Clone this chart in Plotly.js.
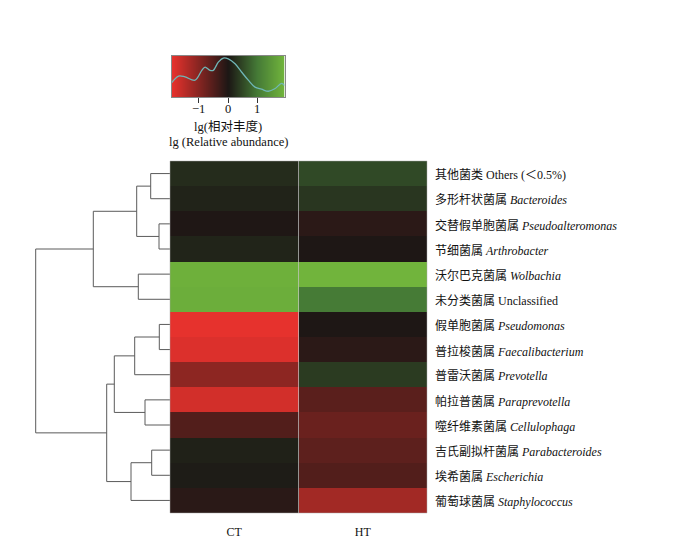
<!DOCTYPE html>
<html><head><meta charset="utf-8">
<script src="https://cdn.plot.ly/plotly-3.0.1.min.js"></script>
<style>html,body{margin:0;padding:0;background:#fff}</style>
</head><body><div id="chart" style="width:700px;height:560px"></div>
<script>
// ---- data ----
const samples = ['CT', 'HT'];
const genusCN = ['其他菌类', '多形杆状菌属', '交替假单胞菌属', '节细菌属', '沃尔巴克菌属', '未分类菌属',
  '假单胞菌属', '普拉梭菌属', '普雷沃菌属', '帕拉普菌属', '噬纤维素菌属', '吉氏副拟杆菌属', '埃希菌属', '葡萄球菌属'];
const genusLatin = ['Others (＜0.5%)', 'Bacteroides', 'Pseudoalteromonas', 'Arthrobacter', 'Wolbachia', 'Unclassified',
  'Pseudomonas', 'Faecalibacterium', 'Prevotella', 'Paraprevotella', 'Cellulophaga', 'Parabacteroides', 'Escherichia', 'Staphylococcus'];
const latinItalic = [false, true, true, true, true, false, true, true, true, true, true, true, true, true];
const valuesCT = [0.21, 0.12, -0.03, 0.13, 1.83, 1.80, -1.90, -1.81, -1.06, -1.71, -0.51, 0.10, 0.05, -0.13];
const valuesHT = [0.49, 0.31, -0.14, -0.02, 1.89, 1.00, -0.02, -0.14, 0.36, -0.58, -0.73, -0.61, -0.51, -1.26];
const keyRange = [-1.92, 1.92];
const keyTicks = [-1, 0, 1];
const keyTickText = ['−1', '0', '1'];
const densityX = [-1.91, -1.68, -1.46, -1.12, -0.89, -0.78, -0.61, -0.50, -0.33, -0.16, 0.01, 0.24, 0.46, 0.69, 0.92, 1.14, 1.37, 1.59, 1.82, 1.92];
const densityY = [0.35, 0.51, 0.49, 0.41, 0.65, 0.73, 0.65, 0.65, 0.85, 0.95, 0.93, 0.81, 0.61, 0.41, 0.24, 0.19, 0.14, 0.20, 0.33, 0.28];
// dendrogram merges (hclust style): negative = leaf row (1-based), positive = earlier merge (1-based)
const mergeA = [-7, -3, -12, -1, -10, -5, 4, 1, 3, 8, 10, 7, 12];
const mergeB = [-8, -4, -13, -2, -11, -6, 2, -9, -14, 5, 9, 6, 11];
const mergeHeight = [1.07, 1.10, 1.83, 1.93, 2.50, 3.17, 3.33, 3.53, 3.90, 5.57, 6.33, 7.67, 13.43];

// ---- build ----
const W = 700, H = 560;
const px = v => v / W, py = v => 1 - v / H;
const FONT = 'Liberation Serif, "Noto Sans CJK SC", serif';
const colorscale = [[0, 'rgb(232,50,45)'], [0.5, 'rgb(28,23,21)'], [0.75, 'rgb(68,120,54)'], [1, 'rgb(114,182,60)']];

const rows = genusCN.map((_, i) => i);
const z = rows.map(i => [valuesCT[i], valuesHT[i]]);

// dendrogram segments
const nodeY = [], nodeH = [];
const getY = k => k < 0 ? (-k - 1) : nodeY[k - 1];
const getH = k => k < 0 ? 0 : nodeH[k - 1];
const dx = [], dy = [];
mergeA.forEach((a, i) => {
  const b = mergeB[i], h = mergeHeight[i];
  const ya = getY(a), yb = getY(b), ha = getH(a), hb = getH(b);
  dx.push(ha, h, h, hb, null);
  dy.push(ya, ya, yb, yb, null);
  nodeY.push((ya + yb) / 2); nodeH.push(h);
});

const traces = [
  { type: 'heatmap', x: samples, y: rows, z: z, colorscale: colorscale,
    zmin: keyRange[0], zmax: keyRange[1], showscale: false, xaxis: 'x', yaxis: 'y', hoverinfo: 'skip' },
  { type: 'scatter', mode: 'lines', x: dx, y: dy, xaxis: 'x2', yaxis: 'y',
    line: { color: '#5a5a5a', width: 1 }, hoverinfo: 'skip', cliponaxis: false },
  { type: 'heatmap', x: keyRange, y: [0, 1], z: [keyRange, keyRange], zsmooth: 'best',
    colorscale: colorscale, zmin: keyRange[0], zmax: keyRange[1], showscale: false,
    xaxis: 'x3', yaxis: 'y3', hoverinfo: 'skip' },
  { type: 'scatter', mode: 'lines', x: densityX, y: densityY, xaxis: 'x3', yaxis: 'y3',
    line: { color: '#6fb6b6', width: 1.3, shape: 'spline' }, hoverinfo: 'skip' }
];

const annotations = rows.map(i => ({
  xref: 'paper', yref: 'y', x: px(433), y: i + 0.06, xanchor: 'left', yanchor: 'middle', showarrow: false,
  text: genusCN[i] + ' ' + (latinItalic[i] ? '<i>' + genusLatin[i] + '</i>' : genusLatin[i]),
  font: { family: FONT, size: 12, color: '#111' }
}));
keyTicks.forEach((t, i) => annotations.push({
  xref: 'x3', yref: 'paper', x: t, y: py(109), xanchor: 'center', yanchor: 'middle', showarrow: false,
  text: keyTickText[i], font: { family: FONT, size: 12.5, color: '#111' }
}));
annotations.push(
  { xref: 'paper', yref: 'paper', x: px(228), y: py(126.5), xanchor: 'center', yanchor: 'middle', showarrow: false,
    text: 'lg(相对丰度)', font: { family: FONT, size: 12.5, color: '#111' } },
  { xref: 'paper', yref: 'paper', x: px(228), y: py(141.5), xanchor: 'center', yanchor: 'middle', showarrow: false,
    text: 'lg (Relative abundance)', font: { family: FONT, size: 12.5, color: '#111' } }
);

const layout = {
  width: W, height: H, margin: { l: 0, r: 0, t: 0, b: 0 },
  paper_bgcolor: '#fff', plot_bgcolor: 'rgba(0,0,0,0)', showlegend: false,
  font: { family: FONT, size: 12, color: '#111' },
  xaxis: { domain: [px(170), px(427)], anchor: 'y', ticks: 'outside', ticklen: 8, tickcolor: 'rgba(0,0,0,0)',
    showgrid: false, zeroline: false, showline: false, tickfont: { family: FONT, size: 12, color: '#111' } },
  yaxis: { domain: [py(513), py(161)], range: [13.5, -0.5], visible: false, showgrid: false, zeroline: false },
  xaxis2: { domain: [0, px(170)], range: [17, 0], anchor: 'y', visible: false, showgrid: false, zeroline: false },
  xaxis3: { domain: [px(171.5), px(284.5)], anchor: 'y3', range: keyRange, showgrid: false, zeroline: false,
    showline: true, mirror: true, linecolor: '#888', linewidth: 1,
    ticks: 'outside', ticklen: 5, tickcolor: '#333', tickvals: keyTicks, showticklabels: false },
  yaxis3: { domain: [py(97), py(56)], anchor: 'x3', range: [0, 1], showgrid: false, zeroline: false,
    showline: true, mirror: true, linecolor: '#888', linewidth: 1, ticks: '', showticklabels: false },
  shapes: [
    { type: 'line', xref: 'x', yref: 'paper', x0: 0.5, x1: 0.5, y0: py(513), y1: py(161),
      line: { color: 'rgba(200,200,200,0.7)', width: 1 } },
    { type: 'rect', xref: 'paper', yref: 'paper', x0: px(170), x1: px(427), y0: py(513), y1: py(161),
      line: { color: 'rgba(170,170,170,0.6)', width: 0.8 } }
  ],
  annotations: annotations
};

Plotly.newPlot('chart', traces, layout, { displayModeBar: false, staticPlot: true });
</script>
</body></html>
